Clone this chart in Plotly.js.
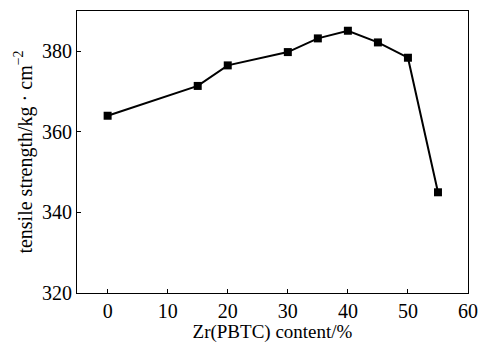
<!DOCTYPE html>
<html><head><meta charset="utf-8">
<script src="https://cdn.plot.ly/plotly-3.0.1.min.js"></script>
<style>html,body{margin:0;padding:0;background:#fff}</style>
</head><body><div id="chart" style="width:480px;height:343px"></div>
<script>
const zrContent = [0, 15, 20, 30, 35, 40, 45, 50, 55];
const tensileStrength = [364.0, 371.4, 376.5, 379.8, 383.2, 385.1, 382.2, 378.4, 345.0];
const xTicks = [0, 10, 20, 30, 40, 50, 60];
const yTicks = [320, 340, 360, 380];

const fam = '"Liberation Serif", "Times New Roman", serif';
const tickFont = {family: fam, size: 20, color: '#000'};
const xTitleFont = {family: fam, size: 19, color: '#000'};
const yTitleFont = {family: fam, size: 20, color: '#000'};
Plotly.newPlot('chart', [{
  x: zrContent, y: tensileStrength, mode: 'lines+markers', type: 'scatter',
  line: {color: '#000', width: 2},
  marker: {symbol: 'square', size: 8, color: '#000'}
}], {
  width: 480, height: 343,
  margin: {l: 77, r: 12, t: 11, b: 50},
  paper_bgcolor: '#fff', plot_bgcolor: '#fff',
  font: tickFont, showlegend: false,
  xaxis: {range: [-5.1, 60], tickvals: xTicks, ticks: 'inside', ticklen: 4, tickcolor: '#000',
    showgrid: false, zeroline: false, showline: true, mirror: true, linecolor: '#000', linewidth: 1,
    tickfont: tickFont, title: {text: 'Zr(PBTC) content/%', font: xTitleFont, standoff: 0}},
  yaxis: {range: [320, 390], tickvals: yTicks, ticks: 'inside', ticklen: 4, tickcolor: '#000',
    showgrid: false, zeroline: false, showline: true, mirror: true, linecolor: '#000', linewidth: 1,
    tickfont: tickFont, title: {text: 'tensile strength/kg · cm<sup>−2</sup>', font: yTitleFont, standoff: 4}}
}, {displayModeBar: false, staticPlot: true});
</script></body></html>
